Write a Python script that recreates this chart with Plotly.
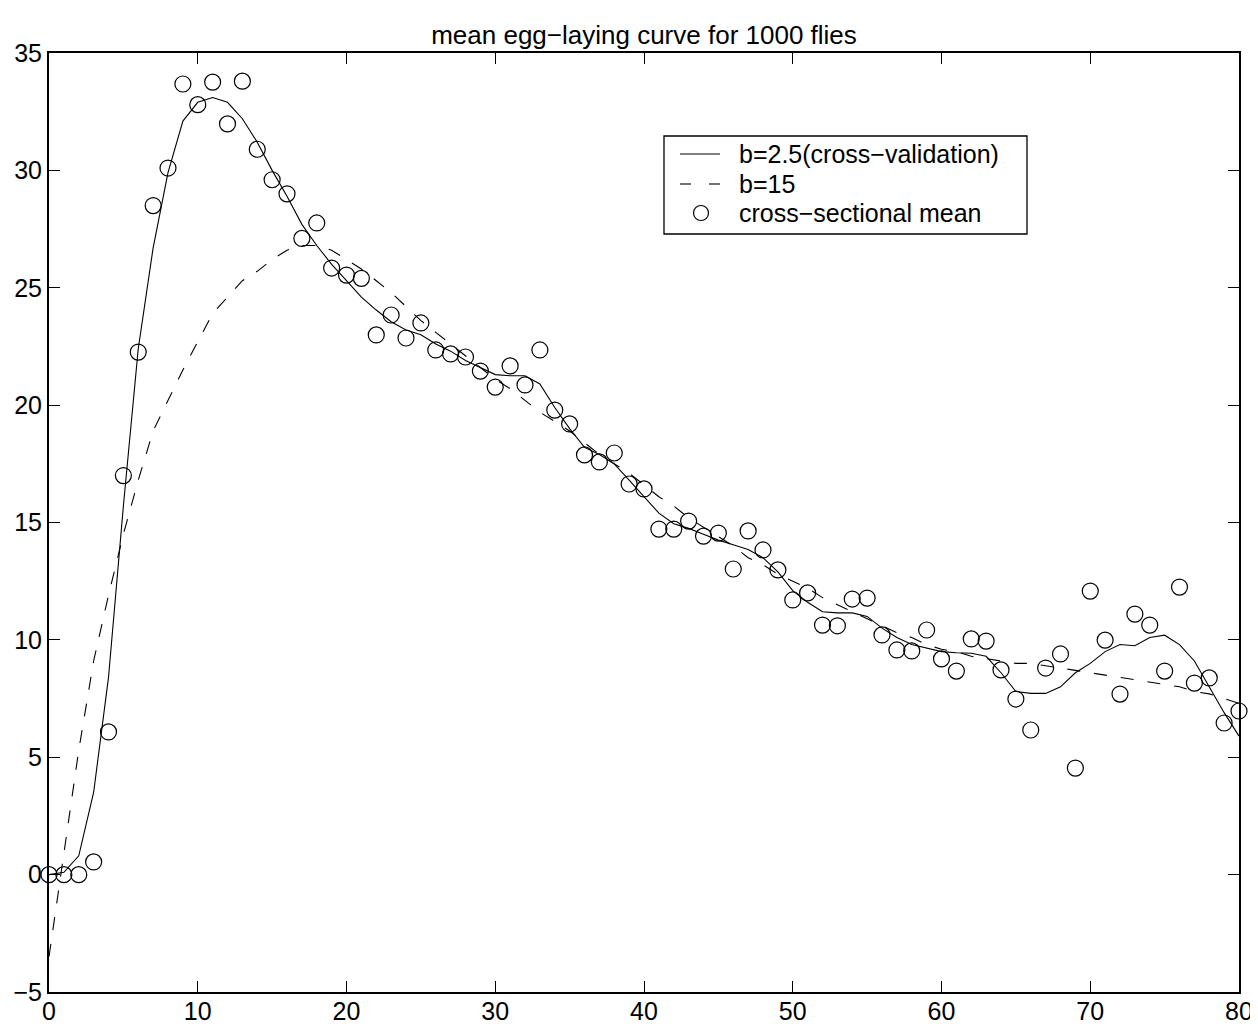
import plotly.graph_objects as go

days = list(range(81))

cross_sectional_mean = [
    0.0, 0.0, 0.0, 0.54, 6.08, 17.0, 22.26, 28.5, 30.1, 33.68,
    32.8, 33.76, 31.98, 33.8, 30.9, 29.6, 29.0, 27.1, 27.76, 25.84,
    25.54, 25.4, 22.99, 23.84, 22.86, 23.5, 22.35, 22.18, 22.05, 21.45,
    20.77, 21.67, 20.86, 22.35, 19.79, 19.2, 17.88, 17.58, 17.96, 16.64,
    16.43, 14.72, 14.72, 15.06, 14.42, 14.55, 13.02, 14.64, 13.83, 12.98,
    11.7, 12.0, 10.63, 10.6, 11.74, 11.78, 10.21, 9.57, 9.53, 10.42,
    9.19, 8.67, 10.04, 9.95, 8.72, 7.48, 6.16, 8.8, 9.4, 4.54,
    12.08, 9.99, 7.69, 11.1, 10.63, 8.67, 12.25, 8.16, 8.38, 6.46, 6.97,
]

smooth_b25 = [
    0.0, 0.1, 0.8, 3.5, 8.4, 15.7, 22.4, 26.7, 29.9, 32.1,
    32.9, 33.1, 32.9, 32.2, 31.2, 30.0, 28.9, 27.7, 26.8, 26.0,
    25.3, 24.6, 24.05, 23.55, 23.2, 23.0, 22.6, 22.3, 21.9, 21.6,
    21.3, 21.25, 21.25, 20.9, 19.9, 19.0, 18.2, 17.9, 17.5, 16.8,
    16.1, 15.4, 14.95, 14.75, 14.5, 14.25, 14.05, 13.85, 13.5, 12.9,
    12.1, 11.6, 11.2, 11.15, 11.15, 11.0, 10.5, 10.1, 9.8, 9.65,
    9.5, 9.45, 9.43, 9.3, 8.6, 7.8, 7.72, 7.72, 8.0, 8.6,
    9.0, 9.5, 9.8, 9.75, 10.1, 10.2, 9.8, 9.1, 8.0, 6.9, 5.9,
]

smooth_b15 = [
    -3.5, 0.9, 5.3, 9.1, 11.9, 14.5, 16.8, 18.9, 20.2, 21.5,
    22.7, 23.9, 24.6, 25.3, 25.7, 26.2, 26.6, 26.8, 26.8, 26.6,
    26.2, 25.8, 25.3, 24.8, 24.2, 23.6, 23.1, 22.6, 22.1, 21.6,
    21.1, 20.7, 20.2, 19.7, 19.3, 18.9, 18.4, 17.9, 17.5, 17.1,
    16.6, 16.1, 15.7, 15.2, 14.8, 14.4, 14.0, 13.5, 13.2, 12.8,
    12.5, 12.2, 11.8, 11.5, 11.2, 10.9, 10.6, 10.3, 10.1, 9.8,
    9.6, 9.5, 9.3, 9.2, 9.1, 9.0, 9.0, 8.9, 8.8, 8.7,
    8.6, 8.5, 8.4, 8.3, 8.2, 8.1, 8.0, 7.8, 7.7, 7.5, 7.3,
]

x_ticks = [0, 10, 20, 30, 40, 50, 60, 70, 80]
y_ticks = [-5, 0, 5, 10, 15, 20, 25, 30, 35]

legend_labels = ["b=2.5(cross\u2212validation)", "b=15", "cross\u2212sectional mean"]

FONT = "Liberation Sans, Arial, Helvetica, sans-serif"

# page has an 8px body margin; figure is sized so the plot lands where the reference has it
W, H = 1250, 1020
L, R, T, B = 41, 19, 45, 36
PW, PH = W - L - R, H - T - B
OFF = 8  # body margin


def px_x(page_x):
    return (page_x - OFF - L) / PW


def px_y(page_y):
    return (H - B - (page_y - OFF)) / PH


solid_style = dict(color="black", width=1.1)
dash_style = dict(color="black", width=1.1, dash="13px,14px")

fig = go.Figure()
fig.add_trace(go.Scatter(
    x=days, y=smooth_b25, mode="lines", name=legend_labels[0], line=solid_style,
))
fig.add_trace(go.Scatter(
    x=days, y=smooth_b15, mode="lines", name=legend_labels[1], line=dash_style,
))
fig.add_trace(go.Scatter(
    x=days, y=cross_sectional_mean, mode="markers", name=legend_labels[2],
    marker=dict(symbol="circle-open", size=16, color="black", line=dict(width=1.2)),
    cliponaxis=False,
))

axis_common = dict(
    showline=True, linecolor="black", linewidth=2, mirror="ticks",
    ticks="inside", ticklen=11, tickwidth=1, tickcolor="black",
    showgrid=False, zeroline=False, automargin=False,
    tickfont=dict(family=FONT, size=25, color="black"),
)

# legend drawn by hand to match the reference box
shapes = [
    dict(type="rect", xref="paper", yref="paper",
         x0=px_x(664), x1=px_x(1027), y0=px_y(234), y1=px_y(136),
         line=dict(color="black", width=1.3), fillcolor="white", layer="above"),
    dict(type="line", xref="paper", yref="paper",
         x0=px_x(680), x1=px_x(720), y0=px_y(154), y1=px_y(154),
         line=dict(color="black", width=1.1), layer="above"),
    dict(type="line", xref="paper", yref="paper",
         x0=px_x(680), x1=px_x(691), y0=px_y(184), y1=px_y(184),
         line=dict(color="black", width=1.1), layer="above"),
    dict(type="line", xref="paper", yref="paper",
         x0=px_x(709), x1=px_x(720), y0=px_y(184), y1=px_y(184),
         line=dict(color="black", width=1.1), layer="above"),
    dict(type="circle", xref="paper", yref="paper",
         xsizemode="pixel", ysizemode="pixel",
         xanchor=px_x(701), yanchor=px_y(213),
         x0=-7.5, x1=7.5, y0=-7.5, y1=7.5,
         line=dict(color="black", width=1.2), layer="above"),
]
annotations = [
    dict(xref="paper", yref="paper", x=px_x(737), y=px_y(yy), text=t,
         xanchor="left", yanchor="middle", showarrow=False,
         font=dict(family=FONT, size=25, color="black"))
    for t, yy in zip(legend_labels, [154, 184, 213])
]

fig.update_layout(
    width=W, height=H,
    margin=dict(l=L, r=R, t=T, b=B),
    paper_bgcolor="white", plot_bgcolor="white",
    title=dict(
        text="mean egg\u2212laying curve for 1000 flies",
        x=(L + PW / 2) / W, xanchor="center",
        y=1 - 27 / H, yanchor="middle",
        font=dict(family=FONT, size=26, color="black"),
    ),
    xaxis=dict(range=[0, 80], tickvals=x_ticks, ticklabelstandoff=-4, **axis_common),
    yaxis=dict(range=[-5, 35], tickvals=y_ticks, ticklabelstandoff=0, **axis_common),
    shapes=shapes,
    annotations=annotations,
    showlegend=False,
)

fig.write_html("out.html")
